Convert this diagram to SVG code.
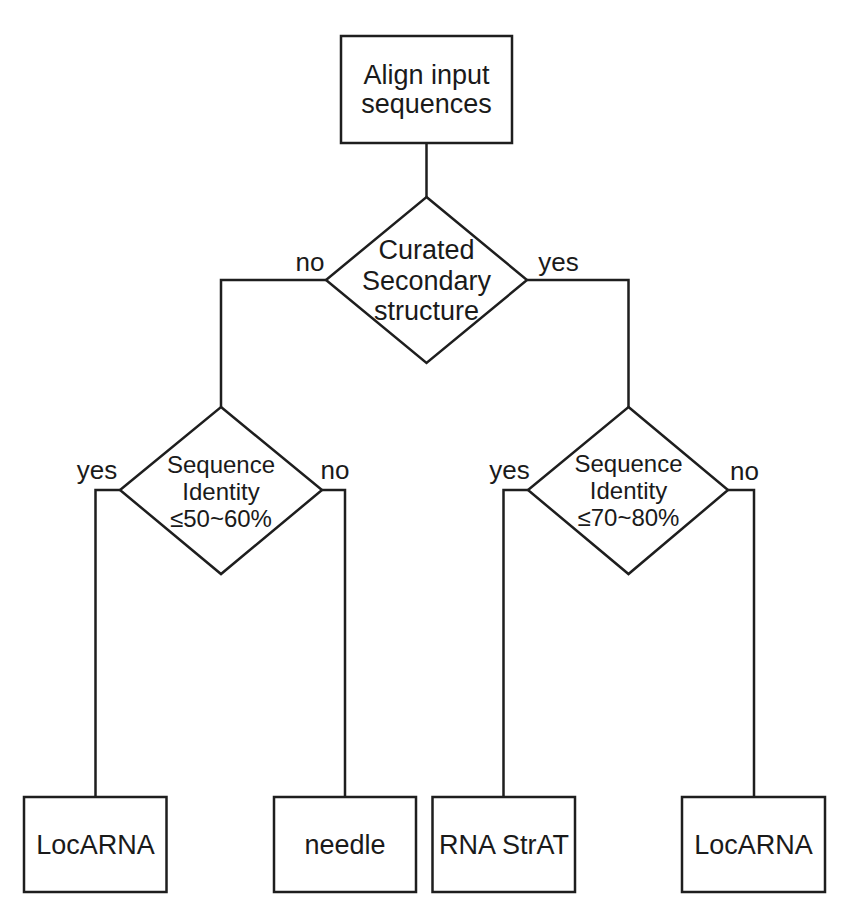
<svg xmlns="http://www.w3.org/2000/svg" width="866" height="917" viewBox="0 0 866 917">
<style>
.shape{fill:#fff;stroke:#1e1e1e;stroke-width:2.5}
.conn{fill:none;stroke:#1e1e1e;stroke-width:2.5}
text{font-family:"Liberation Sans",Arial,sans-serif;fill:#1a1a1a;text-anchor:middle}
.big{font-size:27px}
.mid{font-size:24px}
.lbl{font-size:26px}
</style>
<rect width="866" height="917" fill="#fff"/>
<g id="connectors">
<path class="conn" d="M426.5,143 V197"/>
<path class="conn" d="M326,280 H221 V407"/>
<path class="conn" d="M527,280 H628.5 V407"/>
<path class="conn" d="M120,490 H95.5 V797"/>
<path class="conn" d="M322,490 H345 V797"/>
<path class="conn" d="M528,490 H503.5 V797"/>
<path class="conn" d="M728,490 H754 V797"/>
</g>
<g id="align">
<rect class="shape" x="341" y="36" width="171" height="107"/>
<text class="big" x="426.5" y="84">Align input</text>
<text class="big" x="426.5" y="113">sequences</text>
</g>
<g id="curated">
<polygon class="shape" points="426.5,197 527,280 426.5,363 326,280"/>
<text class="big" x="426.5" y="259">Curated</text>
<text class="big" x="426.5" y="290">Secondary</text>
<text class="big" x="426.5" y="320">structure</text>
<text class="lbl" x="310" y="271">no</text>
<text class="lbl" x="558.5" y="271">yes</text>
</g>
<g id="identity-left">
<polygon class="shape" points="221,407 322,490 221,574 120,490"/>
<text class="mid" x="221" y="473">Sequence</text>
<text class="mid" x="221" y="500">Identity</text>
<text class="mid" x="221" y="527">≤50~60%</text>
<text class="lbl" x="97" y="479">yes</text>
<text class="lbl" x="335" y="479">no</text>
</g>
<g id="identity-right">
<polygon class="shape" points="628.5,407 728,490 628.5,574 528,490"/>
<text class="mid" x="628.5" y="472">Sequence</text>
<text class="mid" x="628.5" y="499">Identity</text>
<text class="mid" x="628.5" y="526">≤70~80%</text>
<text class="lbl" x="509.5" y="479">yes</text>
<text class="lbl" x="744.5" y="480">no</text>
</g>
<g id="locarna-left">
<rect class="shape" x="24" y="797" width="142.5" height="95"/>
<text class="big" x="95.5" y="854">LocARNA</text>
</g>
<g id="needle">
<rect class="shape" x="274" y="797" width="142" height="95"/>
<text class="big" x="345" y="854">needle</text>
</g>
<g id="rnastrat">
<rect class="shape" x="432.5" y="797" width="142.5" height="95"/>
<text class="big" x="504" y="854">RNA StrAT</text>
</g>
<g id="locarna-right">
<rect class="shape" x="682" y="797" width="143" height="95"/>
<text class="big" x="753.5" y="854">LocARNA</text>
</g>
</svg>
